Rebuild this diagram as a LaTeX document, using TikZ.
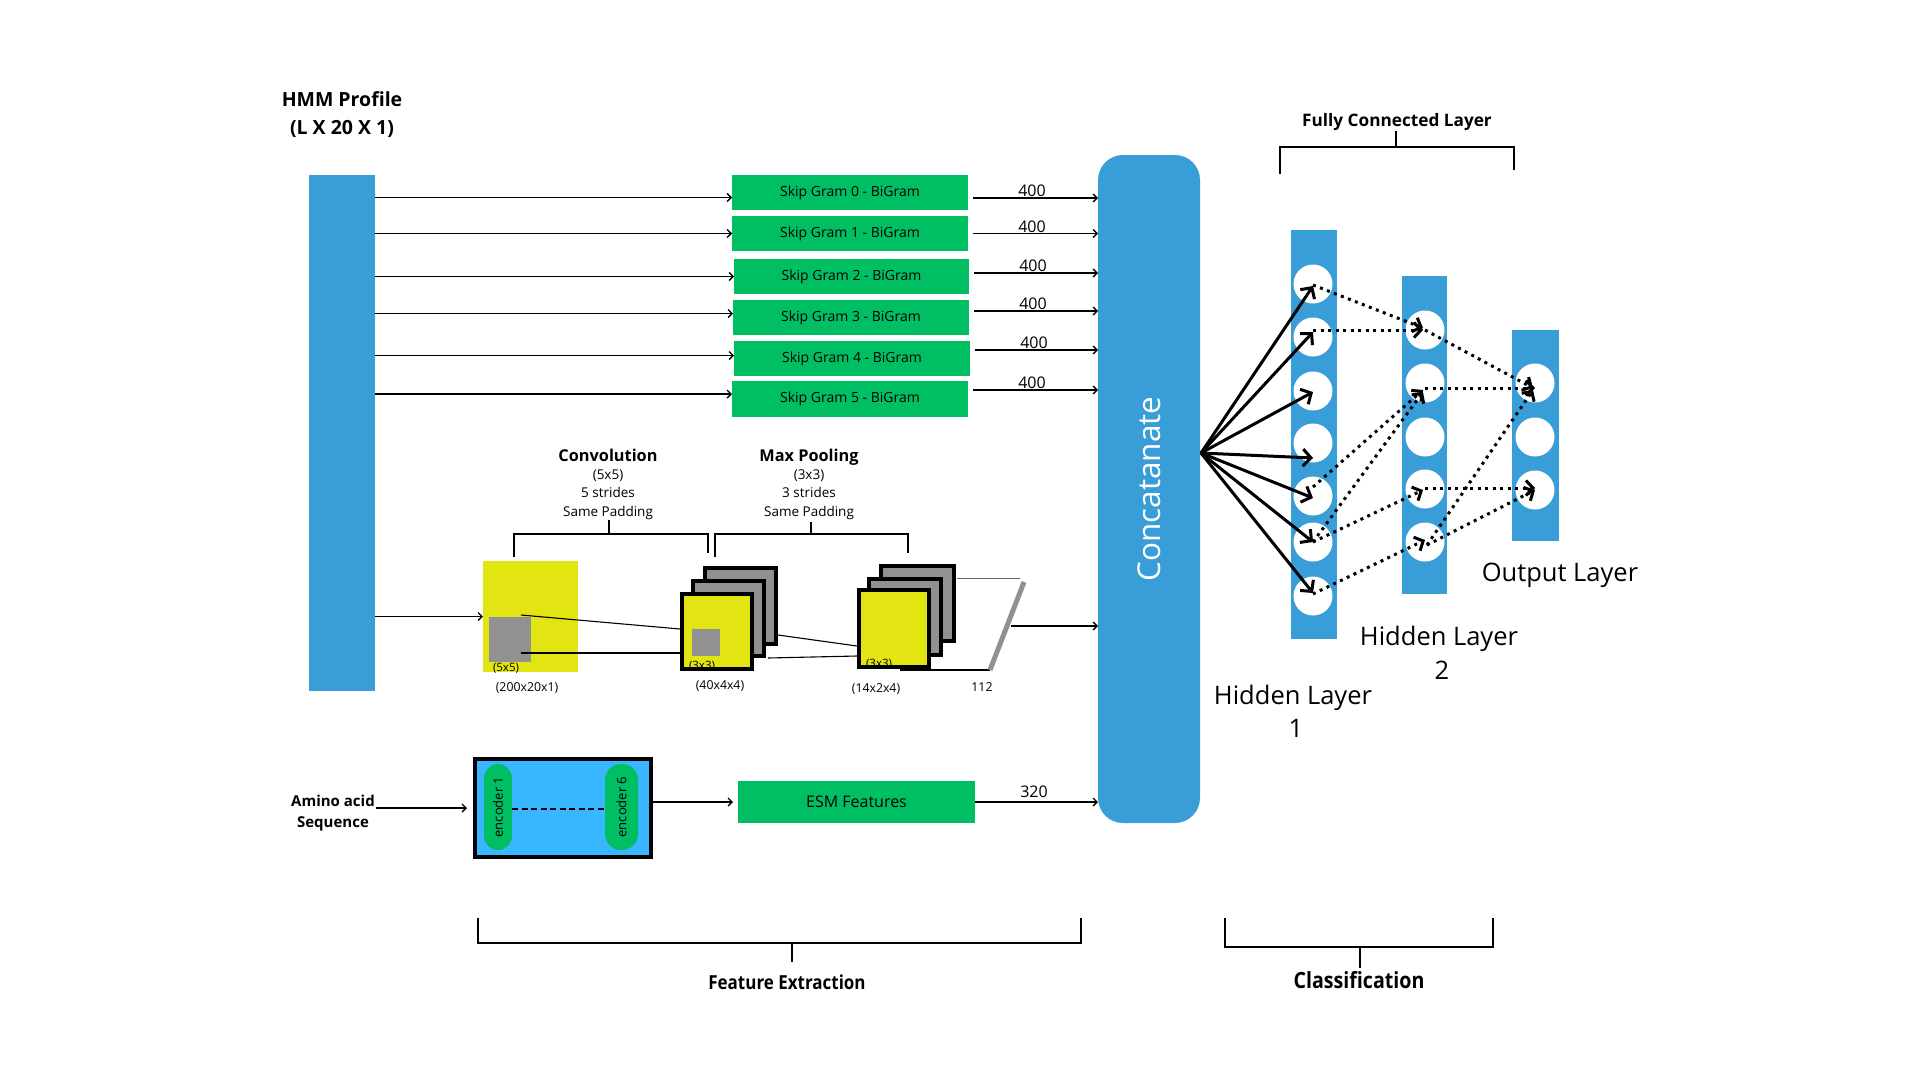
\documentclass[tikz,border=0pt]{standalone}
\usepackage{fontspec}
\setmainfont{Open Sans}
\newfontfamily\condfont[FakeStretch=0.88]{Open Sans}
\usetikzlibrary{arrows.meta,calc}
\definecolor{cblue}{RGB}{57,158,216}
\definecolor{lblue}{RGB}{56,182,255}
\definecolor{cgreen}{RGB}{0,191,99}
\definecolor{cyellow}{RGB}{226,229,18}
\definecolor{cgray}{RGB}{145,145,145}
\newcommand{\fs}[2]{\fontsize{#1pt}{#2pt}\selectfont}
\begin{document}
\begin{tikzpicture}[x=1pt,y=-1pt,
  every node/.style={inner sep=0pt, outer sep=0pt},
  boxat/.style 2 args={minimum width=#1pt, minimum height=#2pt, anchor=north west},
  thinarrow/.style={line width=1.4pt, -{Straight Barb[length=4pt,width=8pt]}},
  fcarrow/.style={line width=3pt, -{Straight Barb[length=8pt,width=17pt]}},
  dotarrow/.style={line width=3pt, dash pattern=on 3pt off 4.5pt, -{Straight Barb[length=7pt,width=15pt]}},
  bracket/.style={line width=2pt},
  neuron/.style={circle, fill=white, minimum size=39pt},
  layerbar/.style={fill=cblue},
  sgbox/.style={fill=cgreen, font=\fs{14}{17}},
  numlbl/.style={anchor=base, font=\fs{16}{19}},
  stackbox/.style={draw=black, line width=3.5pt},
  small/.style={anchor=base, font=\fs{12.3}{15}},
]
\useasboundingbox (0,0) rectangle (1920,1080);

% ---------- HMM profile ----------
\node[boxat={66}{516}, layerbar] (hmm) at (309,175) {};
\node[anchor=base, font=\fs{19.5}{24}\bfseries] (hmmt1) at (342,106) {HMM Profile};
\node[anchor=base, font=\fs{19.5}{24}\bfseries] (hmmt2) at (342,134) {(L X 20 X 1)};

% ---------- Concatenate ----------
\node[boxat={102}{668}, fill=cblue, rounded corners=25pt] (concat) at (1098,155) {};
\node[rotate=90, text=white, font=\fs{31.5}{36}] (concattext) at (concat.center) {Concatanate};

% ---------- Skip grams ----------
\node[boxat={236}{35}, sgbox] (sg0) at (732,175) {Skip Gram 0 - BiGram};
\node[boxat={236}{35}, sgbox] (sg1) at (732,216) {Skip Gram 1 - BiGram};
\node[boxat={235}{35}, sgbox] (sg2) at (734,259) {Skip Gram 2 - BiGram};
\node[boxat={236}{35}, sgbox] (sg3) at (733,300) {Skip Gram 3 - BiGram};
\node[boxat={236}{35}, sgbox] (sg4) at (734,341) {Skip Gram 4 - BiGram};
\node[boxat={236}{36}, sgbox] (sg5) at (732,381) {Skip Gram 5 - BiGram};

\coordinate (in0) at ($(sg0.west)+(0,5)$);
\coordinate (in1) at ($(sg1.west)+(0,0)$);
\coordinate (in2) at ($(sg2.west)+(0,0)$);
\coordinate (in3) at ($(sg3.west)+(0,-4)$);
\coordinate (in4) at ($(sg4.west)+(0,-3)$);
\coordinate (in5) at ($(sg5.west)+(0,-5)$);
\foreach \i in {0,...,5}{
  \draw[thinarrow] (hmm.east |- in\i) -- (in\i);
}

\coordinate (out0) at ($(sg0.east)+(5,5.5)$);
\coordinate (out1) at ($(sg1.east)+(5,0)$);
\coordinate (out2) at ($(sg2.east)+(5,-3.5)$);
\coordinate (out3) at ($(sg3.east)+(5,-6.5)$);
\coordinate (out4) at ($(sg4.east)+(5,-8.5)$);
\coordinate (out5) at ($(sg5.east)+(5,-9)$);
\foreach \i in {0,...,5}{
  \draw[thinarrow] (out\i) -- (out\i -| concat.west);
  \node[numlbl] (lbl\i) at ($(out\i)+(59,-1.5)$) {400};
}

% ---------- Convolution ----------
\node[anchor=base, font=\fs{16.3}{19}\bfseries] (convt) at (608,461) {Convolution};
\node[anchor=base, font=\fs{13.5}{16}] (convs1) at (608,479) {(5x5)};
\node[anchor=base, font=\fs{13.5}{16}] (convs2) at (608,497) {5 strides};
\node[anchor=base, font=\fs{13.5}{16}] (convs3) at (608,516) {Same Padding};
\draw[bracket] (514,557) -- (514,534) -- (708,534) -- (708,553);
\draw[bracket] (609,534) -- (609,520);

\node[anchor=base, font=\fs{16.3}{19}\bfseries] (poolt) at (809,461) {Max Pooling};
\node[anchor=base, font=\fs{13.5}{16}] (pools1) at (809,479) {(3x3)};
\node[anchor=base, font=\fs{13.5}{16}] (pools2) at (809,497) {3 strides};
\node[anchor=base, font=\fs{13.5}{16}] (pools3) at (809,516) {Same Padding};
\draw[bracket] (715,557) -- (715,534) -- (908,534) -- (908,553);
\draw[bracket] (811,534) -- (811,522);

% input map
\node[boxat={95}{111}, fill=cyellow] (convin) at (483,561) {};
\node[boxat={42}{45}, fill=cgray] (kern5) at (489,617) {};
\node[small, font=\fs{11.5}{13}] (k5t) at (506,671) {(5x5)};
\node[small] (inshape) at (527,691) {(200x20x1)};
\draw[thinarrow] (hmm.east |- convin.west) -- (convin.west);

% conv output stack
\node[boxat={71}{76}, stackbox, fill=cgray] (cb) at (705,568) {};
\node[boxat={71}{75}, stackbox, fill=cgray] (cm) at (693,581) {};
\node[boxat={70}{75}, stackbox, fill=cyellow] (cf) at (682,594) {};
\node[boxat={28}{27}, fill=cgray] (kern3) at (692,629) {};
\node[small, font=\fs{11.5}{13}] (k3t) at (702,669) {(3x3)};
\node[small] (convshape) at (720,689) {(40x4x4)};
\draw[line width=1.1pt] ($(kern5.north east)+(-10,-2)$) -- (680,629);
\draw[line width=1.1pt] ($(kern5.south east)+(-10,-9)$) -- (680,653);

% pooling stack
\node[boxat={73}{75}, stackbox, fill=cgray] (pb) at (881,566) {};
\node[boxat={72}{76}, stackbox, fill=cgray] (pm) at (869,579) {};
\node[boxat={70}{77}, stackbox, fill=cyellow] (pf) at (859,590) {};
\node[small, font=\fs{11.5}{13}] (p3t) at (879,667) {(3x3)};
\node[small] (poolshape) at (876,692) {(14x2x4)};
\draw[line width=1.1pt] (778,635) -- (857,646);
\draw[line width=1.1pt] (768,658) -- (857,656);

% flatten
\draw[line width=1pt, black!60] (957,578) -- (1020,578);
\draw[line width=1.2pt] (900,670) -- (990,670);
\draw[line width=5pt, cgray] (990,670) -- (1024,582);
\node[small] (flatt) at (982,691) {112};
\coordinate (flat) at (1011,626);
\draw[thinarrow] (flat) -- (flat -| concat.west);

% ---------- ESM branch ----------
\node[anchor=base, font=\fs{15}{18}\bfseries] (amino1) at (333,806) {Amino acid};
\node[anchor=base, font=\fs{15}{18}\bfseries] (amino2) at (333,827) {Sequence};
\node[boxat={176}{98}, draw=black, line width=4pt, fill=lblue] (enc) at (475,759) {};
\node[boxat={28}{86}, fill=cgreen, rounded corners=14pt] (e1) at (484,764) {};
\node[boxat={33}{86}, fill=cgreen, rounded corners=16pt] (e6) at (605,764) {};
\node[rotate=90, font=\fs{13}{15}] (e1t) at (e1.center) {encoder 1};
\node[rotate=90, font=\fs{13}{15}] (e6t) at (e6.center) {encoder 6};
\draw[line width=2pt, dash pattern=on 6pt off 3.5pt] ($(e1.east)+(0,2)$) -- ($(e6.west)+(0,2)$);
\coordinate (amino) at (376,808);
\draw[thinarrow] (amino) -- ($(amino -| enc.west)+(-8,0)$);

\node[boxat={237}{42}, fill=cgreen, font=\fs{16}{19}] (esm) at (738,781) {ESM Features};
\draw[thinarrow] (enc.east |- esm.west) -- ($(esm.west)+(-5,0)$);
\draw[thinarrow] (esm.east) -- (esm.east -| concat.west);
\node[numlbl] (lbl320) at (1034,797) {320};

% ---------- Fully connected ----------
\node[anchor=base, font=\fs{17.2}{20}\bfseries] (fct) at (1397,126) {Fully Connected Layer};
\draw[bracket] (1280,174) -- (1280,147) -- (1514,147) -- (1514,170);
\draw[bracket] (1396,147) -- (1396,131);

\node[boxat={46}{409}, layerbar] (h1bar) at (1291,230) {};
\node[boxat={45}{318}, layerbar] (h2bar) at (1402,276) {};
\node[boxat={47}{211}, layerbar] (obar) at (1512,330) {};

\foreach \n/\y in {1/284,2/337,3/391,4/443,5/496,6/542,7/596}{
  \node[neuron] (h1c\n) at (1313,\y) {};
}
\foreach \n/\y in {1/330,2/383,3/437,4/489,5/542}{
  \node[neuron] (h2c\n) at (1425,\y) {};
}
\foreach \n/\y in {1/383,2/437,3/490}{
  \node[neuron] (oc\n) at (1535,\y) {};
}

\coordinate (fco) at ($(concat.east)+(1,-36)$);
\draw[fcarrow] (fco) -- ($(h1c1.center)+(0,2)$);
\draw[fcarrow] (fco) -- ($(h1c2.center)+(0,-5)$);
\draw[fcarrow] (fco) -- ($(h1c3.center)+(0,1)$);
\draw[fcarrow] (fco) -- ($(h1c4.center)+(0,15)$);
\draw[fcarrow] (fco) -- ($(h1c5.center)+(0,2)$);
\draw[fcarrow] (fco) -- (h1c6.center);
\draw[fcarrow] (fco) -- ($(h1c7.center)+(0,-3)$);

\draw[dotarrow] ($(h1c1.center)+(0,1)$) -- ($(h2c1.center)+(-2,-2)$);
\draw[dotarrow] (h1c2.center |- h2c1.center) -- ($(h2c1.center)+(-2,0)$);
\draw[dotarrow] (h2c1.center) -- ($(oc1.center)+(-2,5)$);
\draw[dotarrow] ($(h1c5.center)+(0,-9)$) -- ($(h2c2.center)+(-2,7)$);
\draw[dotarrow] (h1c6.center) -- ($(h2c2.center)+(-2,9)$);
\draw[dotarrow] (h1c6.center) -- ($(h2c4.center)+(-2,1)$);
\draw[dotarrow] ($(h1c7.center)+(0,-2)$) -- ($(h2c5.center)+(0,-2)$);
\draw[dotarrow] ($(h2c2.center)+(0,5)$) -- ($(oc1.center)+(0,5)$);
\draw[dotarrow] ($(h2c4.center)+(0,-1)$) -- ($(oc3.center)+(0,-2)$);
\draw[dotarrow] ($(h2c5.center)+(2,3)$) -- ($(oc1.center)+(-2,7)$);
\draw[dotarrow] ($(h2c5.center)+(2,3)$) -- (oc3.center);

\node[anchor=base, font=\fs{25.5}{30}] (olt) at (1560,581) {Output Layer};
\node[anchor=base, font=\fs{25.5}{30}] (h2t1) at (1439,645) {Hidden Layer};
\node[anchor=base, font=\fs{25.5}{30}] (h2t2) at (1442,679) {2};
\node[anchor=base, font=\fs{25.5}{30}] (h1t1) at (1293,704) {Hidden Layer};
\node[anchor=base, font=\fs{25.5}{30}] (h1t2) at (1296,737) {1};

% ---------- Bottom brackets ----------
\draw[bracket] (478,918) -- (478,943) -- (1081,943) -- (1081,918);
\draw[bracket] (792,943) -- (792,962);
\node[anchor=base, font=\fs{19.3}{23}\condfont\bfseries] (fet) at (787,989) {Feature Extraction};
\draw[bracket] (1225,918) -- (1225,947) -- (1493,947) -- (1493,918);
\draw[bracket] (1360,947) -- (1360,968);
\node[anchor=base, font=\fs{22.3}{26}\condfont\bfseries] (clt) at (1359,988) {Classification};
\end{tikzpicture}
\end{document}
